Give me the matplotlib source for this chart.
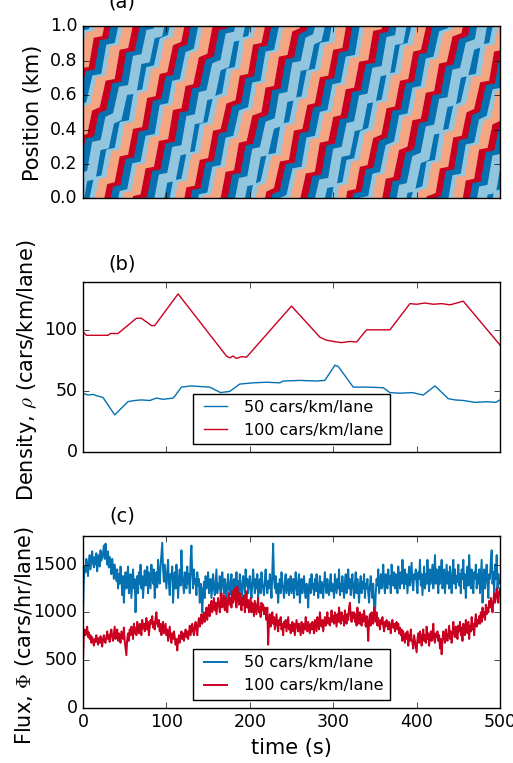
import numpy as np
import matplotlib
matplotlib.use("Agg")
import matplotlib.pyplot as plt

# ---- colours (RdBu 4-class) ----
CAR_COLORS = ["#0571b0", "#92c5de", "#f4a582", "#ca0020"]
BLUE = "#0571b0"
RED = "#ca0020"

# ---- (a) car trajectories: stop/go segments of the lead car (s, km) ----
seg_dt = [
    10, 6, 9, 7, 11, 5, 10, 6, 10, 6,
    9, 7, 11, 6, 10, 6, 9, 6, 10, 6,
    11, 6, 10, 5, 9, 7, 10, 6, 10, 6,
    10, 6, 9, 7, 11, 5, 10, 6, 10, 6,
    9, 7, 11, 6, 10, 6, 9, 6, 10, 6,
    11, 6, 10, 5, 9, 7, 10, 6, 10, 6,
    10, 6, 9, 7, 11, 5, 10, 6, 10, 6,
    9, 7, 11, 6, 10, 6, 9, 6, 10, 6,
]
seg_dx = [
    0.01, 0.16, 0.01, 0.15, 0.02, 0.14, 0.01, 0.17, 0.01, 0.14,
    0.02, 0.15, 0.01, 0.17, 0.01, 0.14, 0.01, 0.15, 0.01, 0.15,
    0.01, 0.17, 0.01, 0.13, 0.01, 0.16, 0.02, 0.15, 0.01, 0.15,
    0.01, 0.16, 0.01, 0.15, 0.02, 0.14, 0.01, 0.17, 0.01, 0.14,
    0.02, 0.15, 0.01, 0.17, 0.01, 0.14, 0.01, 0.15, 0.01, 0.15,
    0.01, 0.17, 0.01, 0.13, 0.01, 0.16, 0.02, 0.15, 0.01, 0.15,
    0.01, 0.16, 0.01, 0.15, 0.02, 0.14, 0.01, 0.17, 0.01, 0.14,
    0.02, 0.15, 0.01, 0.17, 0.01, 0.14, 0.01, 0.15, 0.01, 0.15,
]
lead_start_t = -120.0
lead_start_x = -1.2
# each car follows the one ahead: delay (s) and spacing (km)
car_lags = [0, 9, 6, 10, 7, 8, 5, 11, 8, 8]
car_gaps = [0, 0.02, 0.01, 0.03, 0.015, 0.025, 0.01, 0.02, 0.015, 0.02]

# ---- (b) density (cars/km/lane) ----
dens_red_t = [0, 4, 30, 33, 42, 64, 70, 74, 82, 86, 114, 172, 176, 180, 184, 190, 196,
              250, 284, 292, 300, 310, 320, 328, 340, 368, 392, 400, 410, 420, 430, 440,
              448, 456, 500]
dens_red = [99, 96, 96, 97.5, 97.5, 110, 110, 108, 104, 104, 130, 79, 77.5, 79, 77, 78.5, 78,
            120, 94.5, 92, 91, 90, 91, 90.5, 100.5, 100.5, 122, 121.5, 122.5, 121.5, 122, 121,
            122.5, 124, 88]
dens_blue_t = [0, 6, 12, 16, 24, 38, 54, 62, 70, 80, 88, 96, 108, 110, 118, 130, 140, 152,
               165, 176, 188, 196, 204, 220, 236, 240, 260, 280, 290, 302, 306, 324, 340,
               360, 368, 380, 395, 408, 422, 438, 446, 456, 470, 485, 495, 500]
dens_blue = [48.5, 47, 47.5, 46.5, 45, 30.7, 41.6, 42.5, 43, 42.5, 44.5, 43.5, 44.5, 46,
             53.5, 54.5, 54, 53.5, 49, 50, 56, 56.5, 57, 57.5, 57, 58.5, 59, 58.5, 59, 71.5,
             70.5, 53.5, 53.5, 53, 49, 48.5, 49, 47, 54.5, 44, 43, 42.5, 41, 41.5, 41, 43]

# ---- (c) flux (cars/hr/lane), one value per second ----
flux_blue = [
    1000, 1350, 1480, 1420, 1560, 1500, 1380, 1530, 1600, 1450, 1550, 1640, 1520, 1470, 1580, 1500, 1620, 1430, 1560, 1600, 1480, 1650, 1540, 1580, 1620,
    1700, 1560, 1720, 1600, 1500, 1640, 1470, 1580, 1520, 1400, 1560, 1480, 1350, 1500, 1420, 1330, 1450, 1250, 1400, 1300, 1480, 1350, 1180, 1380, 1100,
    1300, 1420, 1250, 1350, 1480, 1200, 1320, 1400, 1150, 1300, 1450, 1250, 1350, 1000, 1280, 1380, 1200, 1420, 1300, 1500, 1250, 1380, 1150, 1320, 1440,
    1280, 1350, 1480, 1200, 1420, 1330, 1250, 1500, 1380, 1300, 1450, 1150, 1350, 1420, 1260, 1550, 1400, 1300, 1480, 1600, 1730, 1450, 1320, 1500, 1380,
    1250, 1420, 1550, 1300, 1180, 1400, 1350, 1480, 1100, 1300, 1420, 1250, 1500, 1380, 1150, 1330, 1450, 1280, 1650, 1400, 1300, 1200, 1420, 1350, 1250,
    1480, 1300, 1400, 1200, 1550, 1700, 1380, 1250, 1450, 1300, 1350, 1180, 1420, 1280, 1350, 1100, 1300, 1250, 1000, 1200, 1320, 1150, 1380, 1250, 1300,
    1420, 1200, 1300, 1350, 1150, 1280, 1400, 1250, 1180, 1320, 1450, 1200, 1300, 1250, 1380, 1150, 1280, 1420, 1300, 1200, 1350, 1250, 1100, 1300, 1400,
    1250, 1180, 1320, 1400, 1200, 1300, 1350, 1150, 1280, 1420, 1250, 1330, 1200, 1400, 1300, 1150, 1250, 1380, 1300, 1200, 1450, 1280, 1350, 1200, 1300,
    1380, 1250, 1150, 1320, 1450, 1300, 1200, 1350, 1250, 1400, 1150, 1280, 1350, 1200, 1420, 1300, 1250, 1180, 1350, 1450, 1280, 1200, 1330, 1250, 1400,
    1300, 1150, 1450, 1720, 1350, 1250, 1380, 1200, 1300, 1100, 1280, 1350, 1200, 1420, 1300, 1250, 1150, 1330, 1400, 1200, 1280, 1350, 1180, 1300, 1380,
    1200, 1280, 1350, 1150, 1300, 1420, 1250, 1180, 1320, 1400, 1100, 1250, 1350, 1200, 1300, 1380, 1220, 1150, 1300, 1250, 1050, 1280, 1350, 1200, 1400,
    1250, 1300, 1180, 1350, 1220, 1400, 1300, 1150, 1250, 1380, 1200, 1320, 1250, 1150, 1300, 1420, 1280, 1200, 1350, 1250, 1180, 1300, 1400, 1220, 1300,
    1250, 1150, 1400, 1300, 1200, 1350, 1250, 1450, 1180, 1300, 1220, 1380, 1250, 1150, 1320, 1400, 1200, 1300, 1450, 1250, 1350, 1180, 1300, 1400, 1250,
    1150, 1300, 1420, 1200, 1350, 1250, 1100, 1300, 1380, 1200, 1320, 1250, 1400, 1150, 1300, 1250, 1350, 1200, 1100, 1280, 1380, 1250, 1150, 1300, 1050,
    950, 1200, 1350, 1280, 1450, 1200, 1300, 1400, 1250, 1350, 1500, 1280, 1200, 1400, 1330, 1250, 1450, 1300, 1380, 1200, 1500, 1350, 1280, 1420, 1250,
    1400, 1330, 1200, 1480, 1350, 1250, 1420, 1300, 1550, 1380, 1250, 1450, 1300, 1400, 1200, 1350, 1480, 1280, 1400, 1520, 1300, 1230, 1400, 1350, 1450,
    1300, 1200, 1420, 1350, 1550, 1280, 1400, 1180, 1330, 1480, 1250, 1400, 1300, 1550, 1350, 1220, 1450, 1300, 1400, 1500, 1250, 1380, 1600, 1300, 1450,
    1350, 1200, 1480, 1300, 1400, 1550, 1250, 1380, 1450, 1200, 1350, 1500, 1300, 1420, 1250, 1480, 1350, 1200, 1400, 1550, 1300, 1450, 1250, 1380, 1320,
    1500, 1280, 1400, 1200, 1450, 1350, 1550, 1250, 1400, 1150, 1350, 1480, 1280, 1600, 1380, 1250, 1450, 1300, 1200, 1420, 1350, 1500, 1250, 1400, 1300,
    1450, 1200, 1380, 1550, 1100, 1300, 1450, 1250, 1400, 1500, 1300, 1150, 1400, 1350, 1550, 1650, 1300, 1420, 1200, 1500, 1350, 1600, 1250, 1400, 1300,
    1330,
]
flux_red = [
    500, 780, 820, 760, 800, 850, 740, 790, 720, 760, 680, 740, 700, 650, 720, 690, 760, 700, 660, 730, 680, 750, 700, 640, 720,
    760, 700, 680, 740, 800, 720, 760, 690, 780, 820, 740, 700, 780, 850, 720, 760, 820, 700, 780, 740, 680, 800, 760, 720, 840,
    700, 620, 550, 720, 780, 700, 820, 760, 850, 800, 720, 880, 780, 840, 760, 900, 820, 780, 880, 850, 760, 920, 830, 880, 800,
    860, 940, 820, 900, 760, 850, 920, 880, 960, 840, 900, 820, 940, 1000, 880, 850, 920, 800, 880, 760, 850, 900, 780, 830, 880,
    760, 820, 700, 780, 850, 740, 680, 780, 720, 800, 740, 660, 720, 600, 700, 760, 680, 740, 800, 720, 780, 700, 760, 820, 740,
    800, 720, 780, 860, 760, 820, 880, 800, 760, 850, 900, 820, 760, 880, 940, 850, 900, 980, 880, 950, 1000, 900, 960, 1050, 920,
    1000, 1080, 960, 1050, 1120, 1000, 1080, 1150, 1020, 1100, 980, 1060, 1150, 1080, 1000, 1120, 1200, 1050, 1100, 1180, 1020, 1150, 1080, 1000, 1130,
    1200, 1080, 1150, 1050, 1220, 1100, 1180, 1250, 1120, 1050, 1270, 1150, 1080, 1200, 1100, 1020, 1150, 1080, 1180, 1000, 1100, 1220, 1050, 1130, 1000,
    1080, 1150, 1000, 1100, 1050, 960, 1120, 1050, 980, 1080, 1150, 1000, 1050, 950, 1100, 1020, 1080, 980, 1050, 1000, 920, 1050, 660, 900, 980,
    850, 920, 1000, 880, 950, 820, 900, 980, 860, 800, 920, 870, 950, 820, 880, 760, 900, 850, 920, 800, 880, 950, 820, 870, 780,
    850, 900, 800, 880, 760, 840, 920, 860, 800, 880, 820, 760, 900, 850, 780, 880, 820, 950, 860, 800, 900, 840, 780, 880, 820,
    900, 850, 780, 920, 860, 800, 950, 880, 820, 1000, 900, 850, 920, 800, 880, 950, 860, 920, 1000, 880, 940, 860, 920, 1020, 900,
    960, 880, 1000, 920, 850, 980, 900, 1050, 940, 880, 1000, 920, 960, 860, 1020, 940, 880, 980, 920, 1050, 1100, 960, 900, 1000, 940,
    1000, 900, 980, 860, 1050, 940, 880, 1000, 920, 860, 980, 900, 1020, 940, 850, 960, 880, 700, 920, 980, 860, 1000, 920, 880, 1050,
    960, 900, 1000, 860, 940, 880, 820, 920, 880, 950, 860, 800, 900, 850, 920, 880, 820, 900, 860, 780, 880, 920, 840, 880, 800,
    860, 900, 820, 880, 780, 840, 760, 820, 700, 800, 740, 680, 780, 720, 800, 650, 760, 700, 820, 720, 680, 620, 760, 700, 640,
    580, 720, 780, 680, 800, 740, 650, 760, 820, 700, 760, 680, 850, 720, 780, 650, 740, 800, 700, 760, 880, 720, 680, 780, 740,
    800, 700, 760, 620, 720, 560, 700, 800, 760, 680, 820, 740, 700, 780, 860, 720, 800, 680, 760, 900, 800, 740, 850, 780, 720,
    860, 800, 900, 760, 840, 700, 880, 800, 760, 920, 840, 780, 900, 720, 860, 800, 950, 820, 880, 760, 900, 980, 850, 920, 880,
    960, 880, 1000, 900, 1050, 950, 1000, 920, 1080, 980, 1050, 1000, 1120, 1050, 1150, 1080, 1000, 1120, 1200, 1100, 1150, 1250, 1180, 1100, 1220,
    1250,
]
flux_dt = 1.0

labels = ["50 cars/km/lane", "100 cars/km/lane"]

plt.style.use("classic")
plt.rcParams.update({
    "figure.facecolor": "white",
    "savefig.facecolor": "white",
    "font.family": "DejaVu Sans",
    "xtick.labelsize": 12.5,
    "ytick.labelsize": 12.5,
    "axes.labelsize": 15,
    "legend.fontsize": 11.5,
})

fig = plt.figure(figsize=(5.13, 7.63), dpi=100)
left, width = 0.1618, 0.8129
ax_a = fig.add_axes([left, 0.740, width, 0.2254])
ax_b = fig.add_axes([left, 0.4072, width, 0.2236])
ax_c = fig.add_axes([left, 0.0725, width, 0.2250])

# (a) trajectories, wrapped on the 1 km ring by the axis limits
lead_t = lead_start_t + np.concatenate([[0], np.cumsum(seg_dt)])
lead_x = lead_start_x + np.concatenate([[0], np.cumsum(seg_dx)])
delays = np.cumsum(car_lags)
offsets = np.cumsum(car_gaps)
for i in range(len(car_lags)):
    t = lead_t + delays[i]
    x = lead_x - offsets[i]
    for lap in range(-2, 7):
        ax_a.plot(t, x - lap, color=CAR_COLORS[i % 4], lw=7,
                  solid_joinstyle="miter", solid_capstyle="butt")
ax_a.set_xlim(0, 500)
ax_a.set_ylim(0, 1)
ax_a.set_yticks([0, 0.2, 0.4, 0.6, 0.8, 1.0])
ax_a.set_xticklabels([])
ax_a.set_ylabel("Position (km)")
ax_a.yaxis.set_label_coords(-0.095, 0.5)

# (b) density
ax_b.plot(dens_blue_t, dens_blue, color=BLUE, lw=1.0, label=labels[0])
ax_b.plot(dens_red_t, dens_red, color=RED, lw=1.0, label=labels[1])
ax_b.set_xlim(0, 500)
ax_b.set_ylim(0, 140)
ax_b.set_yticks([0, 50, 100])
ax_b.set_xticklabels([])
ax_b.set_ylabel(r"Density, $\rho$ (cars/km/lane)")
ax_b.yaxis.set_label_coords(-0.105, 0.48)
ax_b.legend(loc="lower center")

# (c) flux
flux_t = np.arange(len(flux_blue)) * flux_dt
ax_c.plot(flux_t, flux_blue, color=BLUE, lw=1.4, label=labels[0])
ax_c.plot(flux_t, flux_red, color=RED, lw=1.4, label=labels[1])
ax_c.set_xlim(0, 500)
ax_c.set_ylim(0, 1800)
ax_c.set_yticks([0, 500, 1000, 1500])
ax_c.set_xticks([0, 100, 200, 300, 400, 500])
ax_c.set_xlabel("time (s)")
ax_c.set_ylabel(r"Flux, $\Phi$ (cars/hr/lane)")
ax_c.yaxis.set_label_coords(-0.112, 0.42)
ax_c.legend(loc="lower center")

fig.text(122 / 513, 1 - 2 / 763, "(a)", fontsize=14, ha="center", va="center")
fig.text(122 / 513, 1 - 264 / 763, "(b)", fontsize=14, ha="center", va="center")
fig.text(122 / 513, 1 - 516 / 763, "(c)", fontsize=14, ha="center", va="center")

fig.savefig("out.png", dpi=100)
